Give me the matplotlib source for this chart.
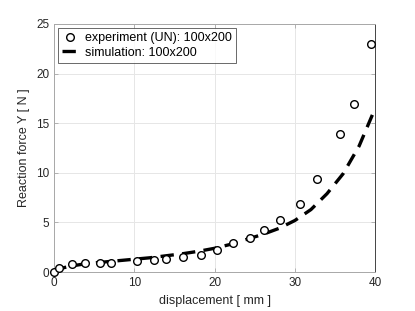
import matplotlib
matplotlib.use("Agg")
import matplotlib.pyplot as plt

plt.rcParams['font.family'] = ['Liberation Sans', 'DejaVu Sans']

# experiment (UN) 100x200
exp_x = [0.0, 0.6, 2.3, 3.9, 5.7, 7.1, 10.3, 12.4, 14.0, 16.1, 18.3, 20.3, 22.3,
         24.4, 26.1, 28.2, 30.6, 32.7, 35.6, 37.4, 39.5]
exp_y = [0.05, 0.4, 0.8, 0.9, 0.95, 0.95, 1.1, 1.2, 1.35, 1.5, 1.75, 2.25, 2.9,
         3.4, 4.25, 5.3, 6.85, 9.35, 13.9, 16.9, 23.0]

# simulation 100x200
sim_x = [0, 1, 2, 4, 6, 8, 10, 12, 14, 16, 18, 20, 22, 24, 26, 28, 30, 32, 34, 36, 38, 40]
sim_y = [0.0, 0.4, 0.6, 0.85, 1.0, 1.15, 1.3, 1.45, 1.65, 1.85, 2.1, 2.4, 2.8,
         3.3, 3.8, 4.4, 5.2, 6.3, 7.9, 9.9, 12.7, 16.5]

fig = plt.figure(figsize=(4.15, 3.11), dpi=100)
ax = fig.add_axes([0.130, 0.125, 0.774, 0.798])

ax.plot(exp_x, exp_y, 'o', mfc='white', mec='black', ms=5.5, mew=1.0,
        label='experiment (UN): 100x200', zorder=3, clip_on=False)
ax.plot(sim_x, sim_y, '--', color='black', lw=2.4, dashes=(4, 2.5),
        label='simulation: 100x200', zorder=2)

ax.set_xlim(0, 40)
ax.set_ylim(0, 25)
ax.set_xticks([0, 10, 20, 30, 40])
ax.set_yticks([0, 5, 10, 15, 20, 25])
ax.grid(True, color='#e6e6e6', lw=0.7)
ax.set_axisbelow(True)
for name, s in ax.spines.items():
    s.set_color('#444444' if name == 'right' else '#a8a8a8')
    s.set_linewidth(0.7)
ax.tick_params(direction='in', length=3, width=0.6, colors='#a8a8a8',
               labelcolor='#262626', labelsize=8.5, top=True, right=True,
               labeltop=False, labelright=False)
ax.set_xlabel('displacement [ mm ]', fontsize=9, color='#262626')
ax.set_ylabel('Reaction force Y [ N ]', fontsize=9, color='#262626')

leg = ax.legend(loc='upper left', fontsize=9, frameon=True, fancybox=False,
                edgecolor='#262626', borderaxespad=0.3, handlelength=1.2,
                handletextpad=0.6, borderpad=0.35, labelspacing=0.2)
leg.get_frame().set_linewidth(0.6)

fig.savefig('out.png', dpi=100)
